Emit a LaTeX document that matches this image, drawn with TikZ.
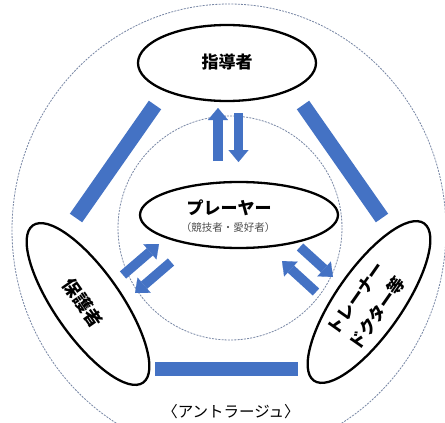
\documentclass[tikz,border=0pt]{standalone}
\usepackage{fontspec}
\newfontfamily\jp{Noto Sans CJK JP}
\usetikzlibrary{shapes.geometric,arrows.meta}
\definecolor{barblue}{RGB}{68,114,196}
\definecolor{ringgray}{RGB}{120,135,165}
\definecolor{subgray}{RGB}{80,80,80}
\begin{document}
\begin{tikzpicture}[x=1pt,y=-1pt,
  ring/.style={draw=ringgray,line width=0.8pt,dash pattern=on 2pt off 1.2pt},
  role/.style={ellipse,draw=black,line width=2.3pt,fill=white,inner sep=0pt},
  lbl/.style={font=\jp\bfseries\fontsize{17}{20}\selectfont,align=center,inner sep=0pt},
  bar/.style={draw=barblue,line width=15pt},
  blockarrow/.style={draw=barblue,line width=9.5pt,-{Triangle[length=12pt,width=20pt,line width=0.1pt]}},
]
\useasboundingbox (0,0) rectangle (445,423);
\clip (0,0) rectangle (445,423);
\fill[white] (0,0) rectangle (445,423);

% rings
\draw[ring] (229,230) ellipse [x radius=217, y radius=226];
\draw[ring] (230,228) circle [radius=112];

% connector bars
\coordinate (lb1) at (76,218);  \coordinate (lb2) at (155,105);
\coordinate (rb1) at (303,105); \coordinate (rb2) at (382,218);
\coordinate (bb1) at (155,369); \coordinate (bb2) at (298,369);
\draw[bar] (lb1) -- (lb2);
\draw[bar] (rb1) -- (rb2);
\draw[bar,line width=14pt] (bb1) -- (bb2);

% role ellipses
\node[role,minimum width=178,minimum height=76] (lead) at (227,63) {};
\node[lbl] (leadtxt) at (227,62) {指導者};

\node[role,minimum width=198,minimum height=66] (player) at (239,215) {};
\node[lbl] (playertxt) at (229,208) {プレーヤー};
\node[inner sep=0pt,text=subgray,font=\jp\fontsize{10.5}{12}\selectfont] (playersub) at (228,228) {（競技者・愛好者）};

\node[role,minimum width=192,minimum height=66,rotate=-55] (guard) at (88,304) {};
\node[lbl,font=\jp\bfseries\fontsize{18}{22}\selectfont,rotate=-55] (guardtxt) at (83,303) {保護者};

\node[role,minimum width=192,minimum height=66,rotate=55] (trainer) at (369,302) {};
\node[lbl,rotate=55] (trainertxt) at (367,306) {トレーナー\\[6pt]ドクター等};

% block arrows
\coordinate (tu1) at (218,161);   \coordinate (tu2) at (218,108);
\coordinate (td1) at (238.5,113); \coordinate (td2) at (238.5,162);
\coordinate (lu1) at (123,275);   \coordinate (lu2) at (159,244);
\coordinate (ld1) at (171,262);   \coordinate (ld2) at (135,293);
\coordinate (rd1) at (300,247);   \coordinate (rd2) at (333,277);
\coordinate (ru1) at (316,292);   \coordinate (ru2) at (282,261);
\draw[blockarrow] (tu1) -- (tu2);
\draw[blockarrow] (td1) -- (td2);
\draw[blockarrow] (lu1) -- (lu2);
\draw[blockarrow] (ld1) -- (ld2);
\draw[blockarrow] (rd1) -- (rd2);
\draw[blockarrow] (ru1) -- (ru2);

% bottom label
\node[inner sep=0pt,font=\jp\fontsize{15.5}{18}\selectfont] (entourage) at (231,412) {〈アントラージュ〉};
\end{tikzpicture}
\end{document}
